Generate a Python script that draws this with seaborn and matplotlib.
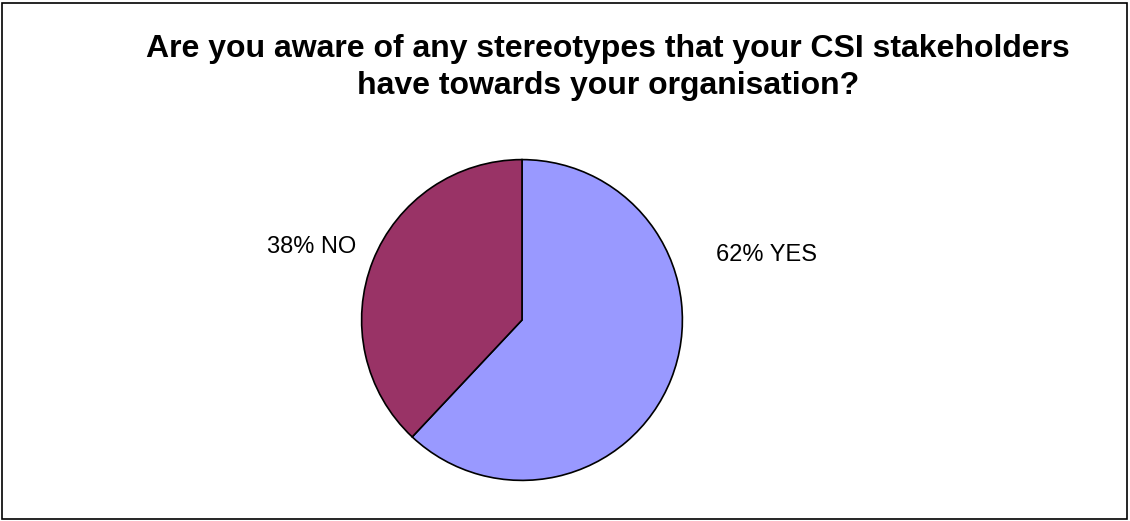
import matplotlib
matplotlib.use("Agg")
import matplotlib.pyplot as plt
from matplotlib.patches import Rectangle
import seaborn as sns

# Survey answers
answers = ["YES", "NO"]
shares = [62, 38]
colors = ["#9999FF", "#993366"]

sns.set_theme(style="white")
plt.rcParams["font.family"] = ["Liberation Sans", "DejaVu Sans"]
plt.rcParams["text.color"] = "black"

W, H = 1130, 521
fig = plt.figure(figsize=(W / 100, H / 100), dpi=100)
fig.patch.set_facecolor("white")

# outer frame
fig.patches.append(Rectangle((2 / W, 2 / H), (W - 5) / W, (H - 5) / H,
                             transform=fig.transFigure, fill=False,
                             edgecolor="black", linewidth=1.2))

title_x = 608 / W
fig.text(title_x, 1 - 49 / H,
         "Are you aware of any stereotypes that your CSI stakeholders",
         ha="center", va="center", fontsize=23, fontweight="bold")
fig.text(title_x, 1 - 86 / H, "have towards your organisation?",
         ha="center", va="center", fontsize=23, fontweight="bold")

cx, cy, r = 522, 320, 162
ax = fig.add_axes([(cx - r) / W, (H - cy - r) / H, 2 * r / W, 2 * r / H])
ax.pie(shares, colors=colors, startangle=90, counterclock=False, radius=1,
       wedgeprops=dict(edgecolor="black", linewidth=1.2))
ax.set_xlim(-1.01, 1.01)
ax.set_ylim(-1.01, 1.01)
ax.set_aspect("equal")
ax.axis("off")

label_pos = {"YES": (767, 255), "NO": (312, 247)}
for name, val in zip(answers, shares):
    x, y = label_pos[name]
    fig.text(x / W, 1 - y / H, f"{val}% {name}", ha="center", va="center",
             fontsize=17)

fig.savefig("out.png", dpi=100)
